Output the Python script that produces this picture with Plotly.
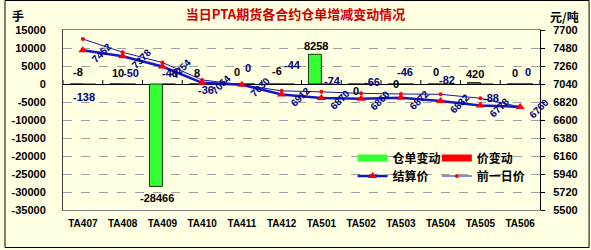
import plotly.graph_objects as go

# ---------------- data ----------------
categories = ["TA407", "TA408", "TA409", "TA410", "TA411", "TA412",
              "TA501", "TA502", "TA503", "TA504", "TA505", "TA506"]
warrant_change = [-8, 10, -28466, 8, 0, -6, 8258, 0, 0, 0, 420, 0]
price_change = [-138, -50, -48, -36, 0, -44, -74, -66, -46, -82, -88, 0]
settle_price = [7452, 7378, 7254, 7054, 7030, 6912, 6870, 6860, 6872, 6832, 6778, 6760]
prev_price = [7590, 7428, 7302, 7090, 7030, 6956, 6944, 6926, 6918, 6914, 6866, 6760]
left_ticks = [-35000, -30000, -25000, -20000, -15000, -10000, -5000, 0, 5000, 10000, 15000]
right_ticks = [5500, 5720, 5940, 6160, 6380, 6600, 6820, 7040, 7260, 7480, 7700]

# ---------------- layout constants ----------------
W, H = 591, 250
ML, MR, MT, MB = 59, 51, 30, 40
PW, PH = W - ML - MR, H - MT - MB
BG = "#FFFFE1"
BLUE = "#1414C8"
NAVY = "#000080"
NUMFONT = "Liberation Sans"
CJK = "Noto Sans CJK SC"


def px_x(px):
    return (px - ML) / PW


def px_y(py):
    return (MT + PH - py) / PH


# label pixel offsets (style only)
wr_dy = [12, 11, -12, 11, 12, 13, 8, -7, 0, 12, 10, 11]
pc_dx = [1, 8, 8, 4, 6, 11, 11, 11, 4, 6, 11, 8]
pc_dy = [-13, 11, 11, -6, 16, 19, 3, 2, 12, 4, -14, 12]

fig = go.Figure()

fig.add_trace(go.Bar(x=categories, y=warrant_change, name="仓单变动",
                     marker=dict(color="#33FF33", line=dict(color="black", width=0.8)),
                     showlegend=False))
fig.add_trace(go.Bar(x=categories, y=price_change, name="价变动",
                     marker=dict(color="#FF0000", line=dict(color="black", width=0.8)),
                     showlegend=False))

# legend entries for bars (wide swatches)
fig.add_trace(go.Scatter(x=[None], y=[None], mode="lines", name="仓单变动",
                         line=dict(color="#33FF33", width=7), legend="legend"))
fig.add_trace(go.Scatter(x=[None], y=[None], mode="lines", name="价变动",
                         line=dict(color="#FF0000", width=7), legend="legend2"))

fig.add_trace(go.Scatter(x=categories, y=settle_price, name="结算价", yaxis="y2",
                         mode="lines+markers",
                         line=dict(color=BLUE, width=2.5),
                         marker=dict(symbol="triangle-up", size=8, color="#FF0000"),
                         legend="legend3"))
fig.add_trace(go.Scatter(x=categories, y=prev_price, name="前一日价", yaxis="y2",
                         mode="lines+markers",
                         line=dict(color=BLUE, width=1),
                         marker=dict(symbol="circle", size=4, color="#FF0000"),
                         legend="legend4"))

annotations = []
# warrant change labels (black)
for i, (c, v) in enumerate(zip(categories, warrant_change)):
    yv = v if abs(v) > 1000 else 0
    annotations.append(dict(x=c, y=yv, xref="x", yref="y", text=str(v), showarrow=False,
                            xshift=-5, yshift=wr_dy[i],
                            font=dict(family=NUMFONT, size=11, color="black", weight="bold")))
# price change labels (navy)
for i, (c, v) in enumerate(zip(categories, price_change)):
    annotations.append(dict(x=c, y=0, xref="x", yref="y", text=str(v), showarrow=False,
                            xshift=pc_dx[i], yshift=pc_dy[i],
                            font=dict(family=NUMFONT, size=11, color=NAVY, weight="bold")))
# settle price labels (rotated)
for c, v in zip(categories, settle_price):
    annotations.append(dict(x=c, y=v, xref="x", yref="y2", text=str(v), showarrow=False,
                            textangle=-45, xshift=19, yshift=-2,
                            font=dict(family=NUMFONT, size=10, color=NAVY, weight="bold")))
# unit labels
annotations.append(dict(x=px_x(14), y=px_y(15), xref="paper", yref="paper",
                        xanchor="center", yanchor="middle",
                        text="手", showarrow=False,
                        font=dict(family=CJK, size=12, color="black", weight="bold")))
annotations.append(dict(x=px_x(565), y=px_y(16), xref="paper", yref="paper",
                        xanchor="center", yanchor="middle",
                        text="元/吨", showarrow=False,
                        font=dict(family=CJK, size=12, color="black", weight="bold")))

shapes = []
# category tick marks on the zero line
for i in range(len(categories) + 1):
    shapes.append(dict(type="line", xref="x", yref="y", x0=i - 0.5, x1=i - 0.5,
                       ysizemode="pixel", yanchor=0, y0=0, y1=4,
                       line=dict(color="black", width=1)))
# outer frame
shapes.append(dict(type="rect", xref="paper", yref="paper",
                   x0=px_x(0.5), x1=px_x(W - 1.5),
                   y0=px_y(H - 2.5), y1=px_y(0.5),
                   line=dict(color="black", width=1)))


def legend_box(px, py):
    return dict(orientation="v", x=px_x(px), y=px_y(py),
                xanchor="left", yanchor="middle", bgcolor="rgba(0,0,0,0)",
                itemwidth=30, tracegroupgap=0,
                font=dict(family=CJK, size=12, color="black", weight="bold"))


fig.update_layout(
    width=W, height=H,
    margin=dict(l=ML, r=MR, t=MT, b=MB, pad=0),
    paper_bgcolor=BG, plot_bgcolor=BG,
    barmode="group", bargap=0.35, bargroupgap=0,
    title=dict(text="当日PTA期货各合约仓单增减变动情况", x=0.5, xref="container",
               y=1 - 14 / H, yref="container", xanchor="center", yanchor="middle",
               font=dict(family=CJK, size=13, color="#D00000", weight="bold")),
    xaxis=dict(type="category", categoryorder="array", categoryarray=categories,
               range=[-0.5, len(categories) - 0.5],
               showline=True, linecolor="#808080", mirror=True, showgrid=False,
               ticks="", ticklabelstandoff=4,
               tickfont=dict(family=NUMFONT, size=10, color="black", weight="bold")),
    yaxis=dict(range=[-35000, 15000], tickvals=left_ticks, ticktext=[str(v) for v in left_ticks],
               showline=True, linecolor="#404040", mirror=True,
               showgrid=True, gridcolor="#A0A0A0", griddash="dash", gridwidth=1,
               zeroline=True, zerolinecolor="black", zerolinewidth=1,
               ticks="", ticklabelstandoff=14,
               tickfont=dict(family=NUMFONT, size=11, color="black", weight="bold")),
    yaxis2=dict(range=[5500, 7700], tickvals=right_ticks, ticktext=[str(v) for v in right_ticks],
                overlaying="y", side="right", showgrid=False, zeroline=False,
                showline=True, linecolor="black",
                ticks="outside", ticklen=4, tickcolor="black", ticklabelstandoff=6,
                tickfont=dict(family=NUMFONT, size=11, color="black", weight="bold")),
    legend=legend_box(351, 158),
    legend2=legend_box(436, 158),
    legend3=legend_box(351, 176),
    legend4=legend_box(436, 176),
    annotations=annotations,
    shapes=shapes,
)

fig.write_html("out.html")
